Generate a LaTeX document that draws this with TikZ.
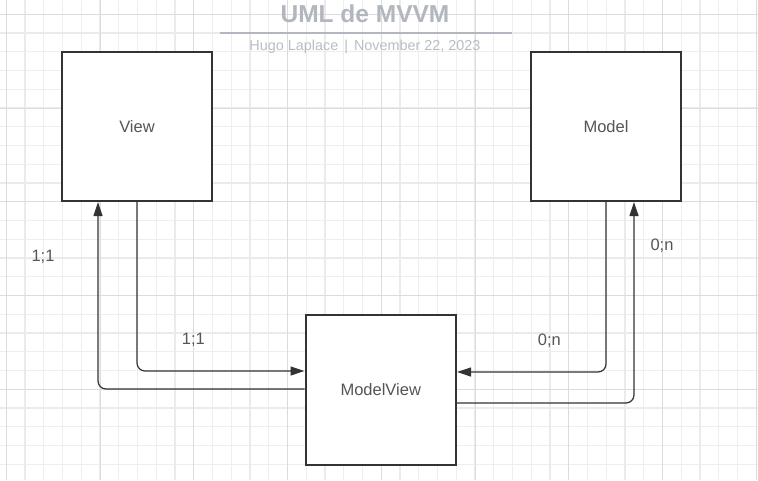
\documentclass[tikz,border=0pt]{standalone}
\usepackage{fontspec}
\setmainfont{Liberation Sans}
\usetikzlibrary{arrows.meta}
\definecolor{gridminor}{HTML}{EEEEEE}
\definecolor{gridthick}{HTML}{EBEBEB}
\definecolor{griddark}{HTML}{DCDCDC}
\definecolor{boxline}{HTML}{333333}
\definecolor{txt}{HTML}{555555}
\definecolor{titlegray}{HTML}{B2B6BE}
\definecolor{subgray}{HTML}{B9BDC5}
\tikzset{
  box/.style={draw=boxline, line width=2pt, fill=white, minimum width=150pt, minimum height=149pt, inner sep=0pt, text=txt, font=\fontsize{16.5}{18}\selectfont},
  conn/.style={draw=boxline, line width=1.2pt, rounded corners=8pt, -{Triangle[length=14pt,width=9pt]}},
  lbl/.style={text=txt, font=\fontsize{16.5}{18}\selectfont, inner sep=0pt},
}
\begin{document}
\begin{tikzpicture}[x=1pt,y=-1pt]
\useasboundingbox (0,0) rectangle (758,480);
\fill[white] (0,0) rectangle (758,480);
% grid
\foreach \i in {0,...,40} {
  \draw[gridminor, line width=0.8pt] ({6.25+18.75*\i},0) -- ({6.25+18.75*\i},480);
}
\foreach \i in {0,...,25} {
  \draw[gridminor, line width=0.8pt] (0,{14.25+18.75*\i}) -- (758,{14.25+18.75*\i});
}
\foreach \i in {0,...,10} {
  \draw[gridthick, line width=2.5pt] ({25+75*\i},0) -- ({25+75*\i},480);
}
\foreach \i in {0,...,6} {
  \draw[gridthick, line width=2.5pt] (0,{33+75*\i}) -- (758,{33+75*\i});
}
\foreach \i in {0,...,8} {
  \draw[griddark, line width=0.9pt] ({6.25+93.75*\i},0) -- ({6.25+93.75*\i},480);
}
\foreach \i in {0,...,5} {
  \draw[griddark, line width=0.9pt] (0,{14.25+93.75*\i}) -- (758,{14.25+93.75*\i});
}
% title
\node[text=titlegray, font=\bfseries\fontsize{24.5}{26}\selectfont, inner sep=0pt] (title) at (365,14) {UML de MVVM};
\coordinate (ulL) at (220,32.7);
\coordinate (ulR) at (512,32.7);
\draw[titlegray, line width=2pt] (ulL) -- (ulR);
\node[text=subgray, font=\fontsize{14.4}{16}\selectfont, inner sep=0pt] (sub) at (365,47) {Hugo Laplace\hspace{6pt}|\hspace{6pt}November 22, 2023};
% boxes
\node[box] (view) at (137,126.5) {View};
\node[box] (model) at (606,126.5) {Model};
\node[box, minimum width=150.5pt, minimum height=150pt] (mv) at (380.75,390) {ModelView};
% connectors
\draw[conn] (view.south) |- ([yshift=19pt]mv.west);
\draw[conn] ([yshift=1pt]mv.west) -| ([xshift=-39pt]view.south);
\draw[conn] (model.south) |- ([yshift=18pt]mv.east);
\draw[conn] ([yshift=-13pt]mv.east) -| ([xshift=28pt]model.south);
% labels
\node[lbl] (l1) at (43,256.5) {1;1};
\node[lbl] (l2) at (193.3,340) {1;1};
\node[lbl] (l3) at (549.3,340.5) {0;n};
\node[lbl] (l4) at (662,246) {0;n};
\end{tikzpicture}
\end{document}
